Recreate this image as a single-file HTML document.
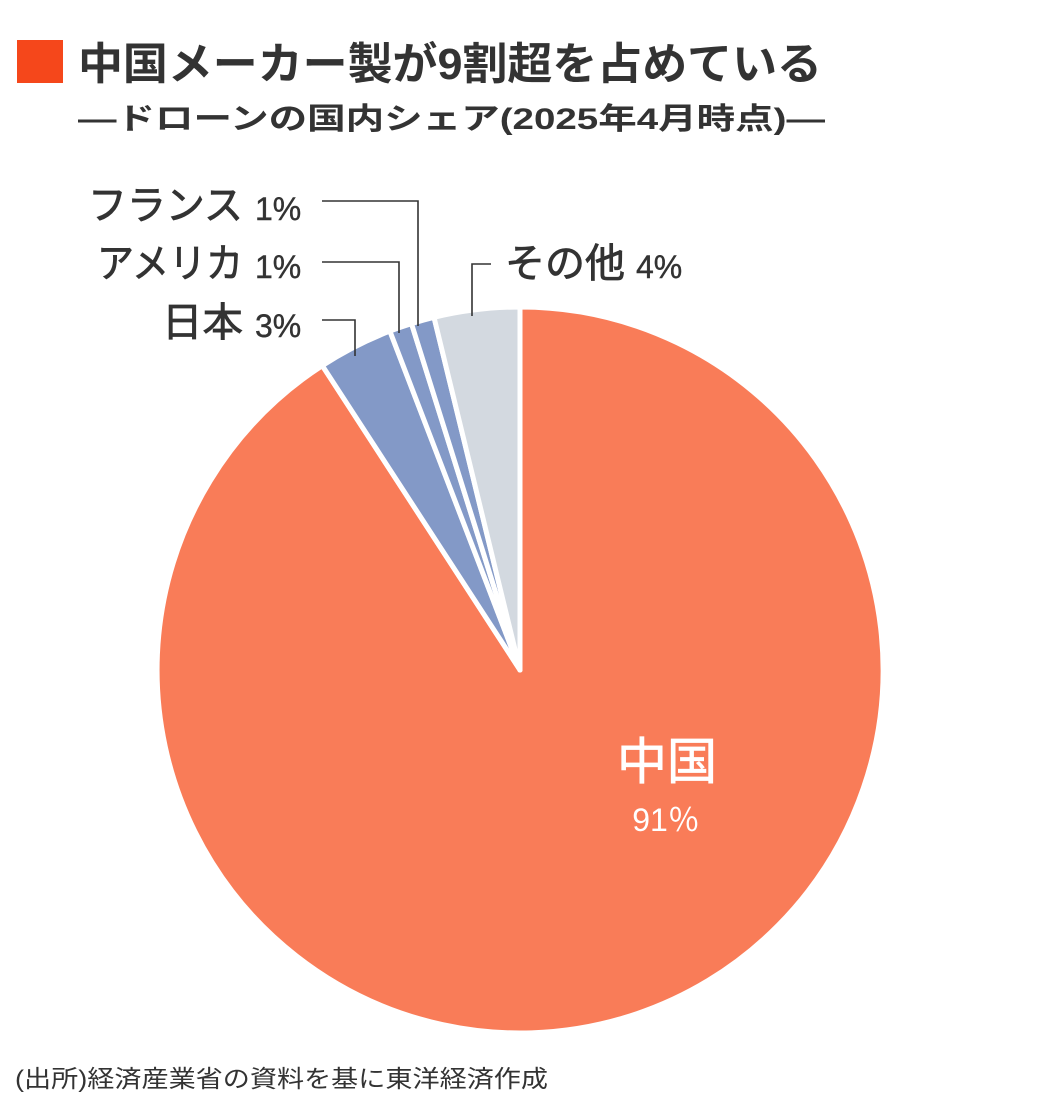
<!DOCTYPE html><html><head><meta charset="utf-8"><style>
body{margin:0;width:1040px;height:1103px;background:#fff;overflow:hidden}
</style></head><body>
<svg width="1040" height="1103" xmlns="http://www.w3.org/2000/svg" style="font-family:'Liberation Sans','Noto Sans CJK JP',sans-serif">
<rect x="17" y="40" width="46" height="43" fill="#f5471b"/>
<text x="78" y="79" font-size="44" font-weight="bold" fill="#333" textLength="744" lengthAdjust="spacingAndGlyphs">中国メーカー製が9割超を占めている</text>
<text x="78" y="129" font-size="30" font-weight="bold" fill="#333" textLength="747" lengthAdjust="spacingAndGlyphs">―ドローンの国内シェア(2025年4月時点)―</text>
<g stroke="#fff" stroke-width="5" stroke-linejoin="round">
<path d="M520,670 L520,307 A363,363 0 1 1 322.3,365.6 Z" fill="#f97c58"/>
<path d="M520,670 L322.3,365.6 A363,363 0 0 1 389.9,331.1 Z" fill="#8399c7"/>
<path d="M520,670 L389.9,331.1 A363,363 0 0 1 411.5,323.6 Z" fill="#8399c7"/>
<path d="M520,670 L411.5,323.6 A363,363 0 0 1 434,317.3 Z" fill="#8399c7"/>
<path d="M520,670 L434,317.3 A363,363 0 0 1 520,307 Z" fill="#d3d9e0"/>
</g>
<g stroke="#333" stroke-width="1.6" fill="none">
<polyline points="322,201 418,201 418,326"/>
<polyline points="322,262 399,262 399,333"/>
<polyline points="322,320 355,320 355,356"/>
<polyline points="491,264 472,264 472,316"/>
</g>
<g fill="#333" font-size="40" stroke="#333" stroke-width="0.8">
<text x="88" y="219" textLength="155" lengthAdjust="spacingAndGlyphs">フランス</text>
<text x="97" y="277" textLength="146" lengthAdjust="spacingAndGlyphs">アメリカ</text>
<text x="162" y="336" textLength="81" lengthAdjust="spacingAndGlyphs">日本</text>
<text x="505" y="277" textLength="120" lengthAdjust="spacingAndGlyphs">その他</text>
</g>
<g fill="#333" font-size="32" stroke="#333" stroke-width="0.4">
<text x="255" y="220">1%</text>
<text x="255" y="278">1%</text>
<text x="255" y="337">3%</text>
<text x="636" y="278">4%</text>
</g>
<text x="667" y="779" font-size="50" fill="#fff" stroke="#fff" stroke-width="0.8" text-anchor="middle">中国</text>
<text x="666" y="831" font-size="32" fill="#fff" text-anchor="middle">91％</text>
<text x="15" y="1087" font-size="24" fill="#333" textLength="533" lengthAdjust="spacingAndGlyphs">(出所)経済産業省の資料を基に東洋経済作成</text>
</svg>
</body></html>
